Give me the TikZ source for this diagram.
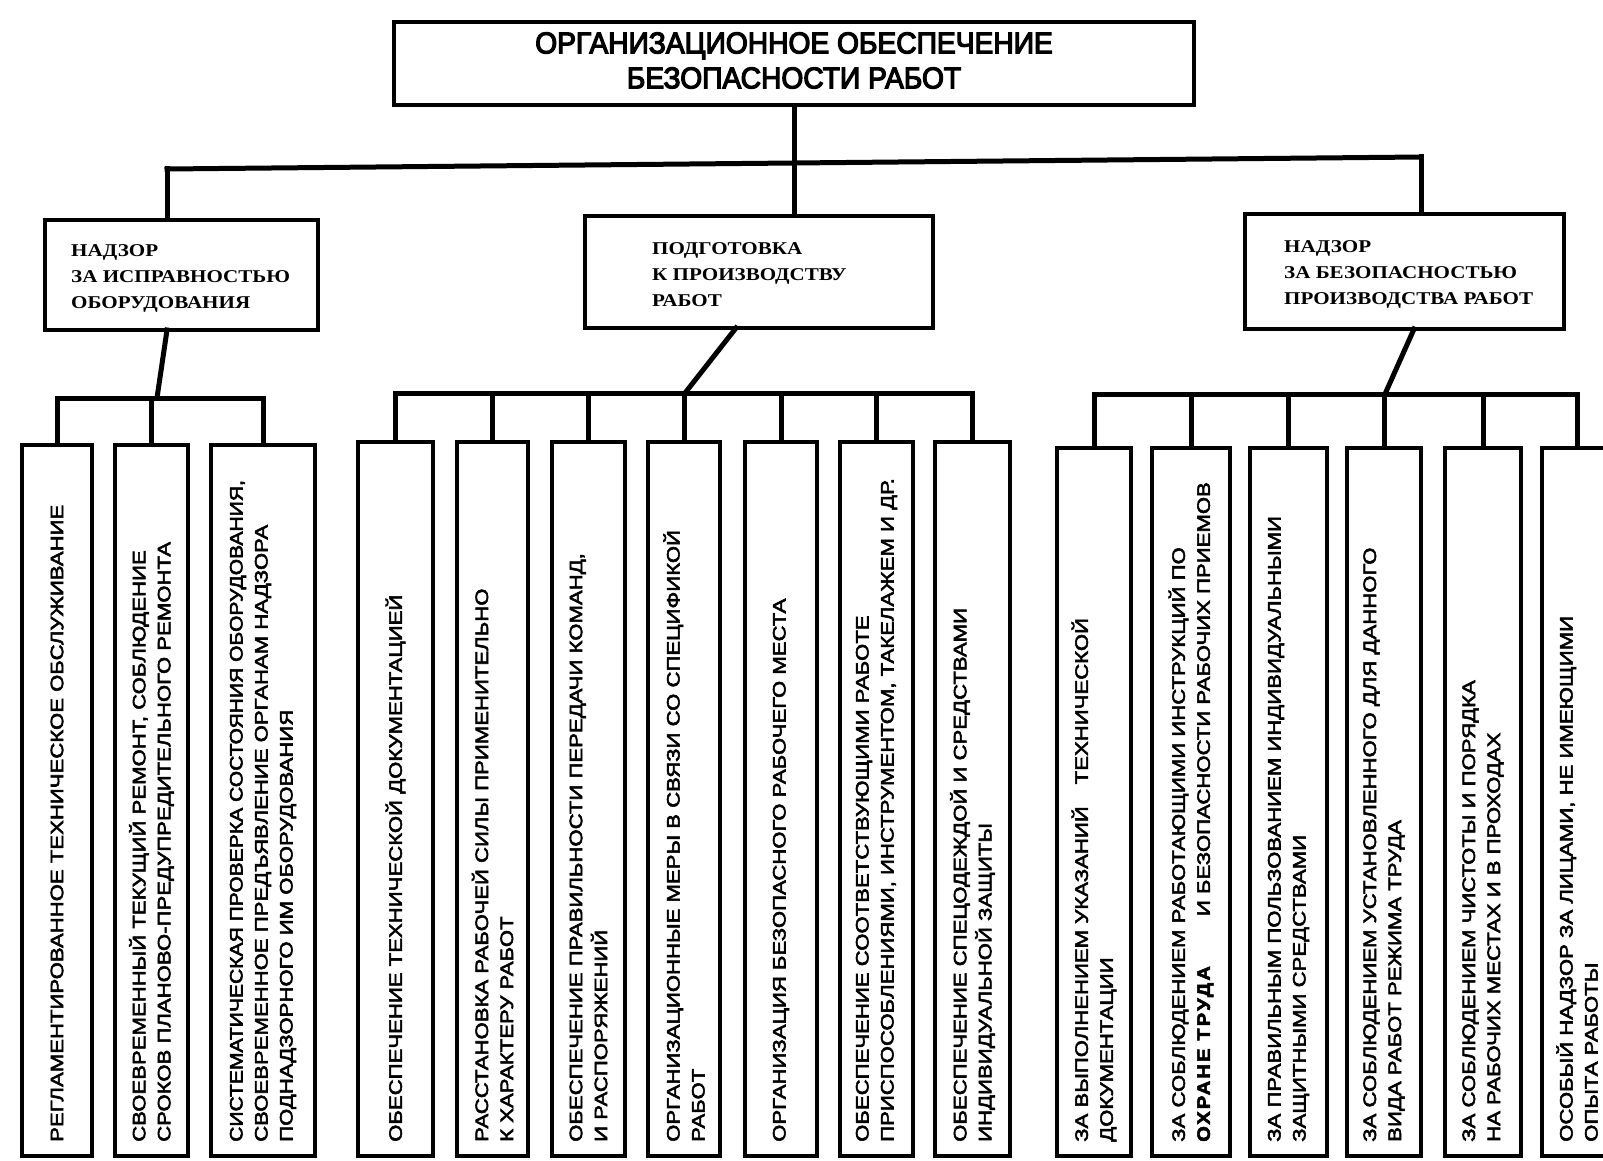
\documentclass[tikz,border=0pt]{standalone}
\usepackage{fontspec}
\setmainfont{Liberation Sans}
\newfontfamily\topfont[FakeStretch=0.94,FakeBold=4]{Liberation Sans}
\newfontfamily\midfont[FakeStretch=1.17]{Liberation Serif}
\newfontfamily\childfont[FakeStretch=1.23,FakeBold=3]{Liberation Sans}
\newfontfamily\childfontn[FakeStretch=1.17,FakeBold=3]{Liberation Sans}
\newfontfamily\childbold[FakeStretch=1.12,LetterSpace=12,FakeBold=3]{Liberation Sans}
\tikzset{
  bx/.style={draw, line width=4pt, inner sep=0pt},
  ln/.style={line width=5pt, line cap=rect, line join=miter},
  kidtext/.style={rotate=90, anchor=west, align=left, inner sep=0pt,
    font=\childfont\fontsize{18}{25}\selectfont},
  midtext/.style={anchor=west, align=left, inner sep=0pt, yshift=-3pt,
    font=\midfont\bfseries\fontsize{18}{26}\selectfont},
  toptext/.style={align=center, inner sep=0pt,
    font=\topfont\fontsize{30}{35}\selectfont}
}
\newcommand\kid[5]{%
  \pgfmathsetmacro\kx{(#2+#3)/2}%
  \pgfmathsetmacro\kw{#3-#2}%
  \pgfmathsetmacro\ky{(#4+1156)/2}%
  \pgfmathsetmacro\kh{1156-#4}%
  \node[bx, minimum width=\kw pt, minimum height=\kh pt] (#1) at (\kx,\ky) {};
  \node[kidtext] (#1t) at ([yshift=16pt]#1.south) {#5};
}
\begin{document}
\begin{tikzpicture}[x=1pt,y=-1pt]
\path[use as bounding box, fill=white] (0,0) rectangle (1603,1161);
\clip (0,0) rectangle (1603,1161);

% top box
\node[bx, minimum width=800pt, minimum height=83pt] (top) at (794,63.5) {};
\node[toptext] (topt) at ([yshift=3pt]top.center) {ОРГАНИЗАЦИОННОЕ ОБЕСПЕЧЕНИЕ\\БЕЗОПАСНОСТИ РАБОТ};

% middle level boxes
\node[bx, minimum width=273pt, minimum height=110pt] (A) at (181.5,275) {};
\node[midtext] (At) at ([xshift=28pt]A.west) {НАДЗОР\\ЗА ИСПРАВНОСТЬЮ\\ОБОРУДОВАНИЯ};
\node[bx, minimum width=348pt, minimum height=112pt] (B) at (759,272) {};
\node[midtext] (Bt) at ([xshift=69pt]B.west) {ПОДГОТОВКА\\К ПРОИЗВОДСТВУ\\РАБОТ};
\node[bx, minimum width=319pt, minimum height=115pt] (C) at (1404.5,271.5) {};
\node[midtext] (Ct) at ([xshift=41pt]C.west) {НАДЗОР\\ЗА БЕЗОПАСНОСТЬЮ\\ПРОИЗВОДСТВА РАБОТ};

% children, left group
\kid{l1}{22}{92}{445}{РЕГЛАМЕНТИРОВАННОЕ ТЕХНИЧЕСКОЕ ОБСЛУЖИВАНИЕ}
\kid{l2}{115}{188}{445}{СВОЕВРЕМЕННЫЙ ТЕКУЩИЙ РЕМОНТ, СОБЛЮДЕНИЕ\\СРОКОВ ПЛАНОВО-ПРЕДУПРЕДИТЕЛЬНОГО РЕМОНТА}
\kid{l3}{211}{315}{445}{\childfontn СИСТЕМАТИЧЕСКАЯ ПРОВЕРКА СОСТОЯНИЯ ОБОРУДОВАНИЯ,\\СВОЕВРЕМЕННОЕ ПРЕДЪЯВЛЕНИЕ ОРГАНАМ НАДЗОРА\\ПОДНАДЗОРНОГО ИМ ОБОРУДОВАНИЯ}
% middle group
\kid{m1}{358}{433}{442}{ОБЕСПЕЧЕНИЕ ТЕХНИЧЕСКОЙ ДОКУМЕНТАЦИЕЙ}
\kid{m2}{457}{528}{442}{РАССТАНОВКА РАБОЧЕЙ СИЛЫ ПРИМЕНИТЕЛЬНО\\К ХАРАКТЕРУ РАБОТ}
\kid{m3}{552}{625}{442}{ОБЕСПЕЧЕНИЕ ПРАВИЛЬНОСТИ ПЕРЕДАЧИ КОМАНД,\\И РАСПОРЯЖЕНИЙ}
\kid{m4}{648}{720}{442}{ОРГАНИЗАЦИОННЫЕ МЕРЫ В СВЯЗИ СО СПЕЦИФИКОЙ\\РАБОТ}
\kid{m5}{745}{817}{442}{ОРГАНИЗАЦИЯ БЕЗОПАСНОГО РАБОЧЕГО МЕСТА}
\kid{m6}{840}{913}{442}{ОБЕСПЕЧЕНИЕ СООТВЕТСТВУЮЩИМИ РАБОТЕ\\ПРИСПОСОБЛЕНИЯМИ, ИНСТРУМЕНТОМ, ТАКЕЛАЖЕМ И ДР.}
\kid{m7}{935}{1010}{442}{ОБЕСПЕЧЕНИЕ СПЕЦОДЕЖДОЙ И СРЕДСТВАМИ\\ИНДИВИДУАЛЬНОЙ ЗАЩИТЫ}
% right group
\kid{r1}{1057}{1131}{448}{ЗА ВЫПОЛНЕНИЕМ УКАЗАНИЙ\hspace{22pt}ТЕХНИЧЕСКОЙ\\ДОКУМЕНТАЦИИ}
\kid{r2}{1152}{1230}{448}{ЗА СОБЛЮДЕНИЕМ РАБОТАЮЩИМИ ИНСТРУКЦИЙ ПО\\{\childbold\bfseries ОХРАНЕ ТРУДА}\hspace{50pt}И БЕЗОПАСНОСТИ РАБОЧИХ ПРИЕМОВ}
\kid{r3}{1250}{1327}{448}{ЗА ПРАВИЛЬНЫМ ПОЛЬЗОВАНИЕМ ИНДИВИДУАЛЬНЫМИ\\ЗАЩИТНЫМИ СРЕДСТВАМИ}
\kid{r4}{1347}{1421}{448}{ЗА СОБЛЮДЕНИЕМ УСТАНОВЛЕННОГО ДЛЯ ДАННОГО\\ВИДА РАБОТ РЕЖИМА ТРУДА}
\kid{r5}{1445}{1521}{448}{ЗА СОБЛЮДЕНИЕМ ЧИСТОТЫ И ПОРЯДКА\\НА РАБОЧИХ МЕСТАХ И В ПРОХОДАХ}
\kid{r6}{1542}{1612}{448}{ОСОБЫЙ НАДЗОР ЗА ЛИЦАМИ, НЕ ИМЕЮЩИМИ\\ОПЫТА РАБОТЫ}

% connectors, top level
\coordinate (bl) at (167,169);
\coordinate (br) at (1421,157);
\coordinate (bm) at (794,163);
\draw[ln] (top.south) -- (bm);
\draw[ln] (bl) -- (br);
\draw[ln] (bl) -- (bl |- A.north);
\draw[ln] (bm) -- (bm |- B.north);
\draw[ln] (br) -- (br |- C.north);

% left group
\coordinate (as) at (167,330);
\coordinate (ab) at (157,398);
\draw[ln] (as) -- (ab);
\draw[ln] (l1.north) -- (l1.north |- ab) -- (l3.north |- ab) -- (l3.north);
\draw[ln] (l2.north |- ab) -- (l2.north);

% middle group
\coordinate (bs) at (736,328);
\coordinate (bb) at (685,393);
\draw[ln] (bs) -- (bb);
\draw[ln] (m1.north) -- (m1.north |- bb) -- (m7.north |- bb) -- (m7.north);
\foreach \k in {m2,m3,m4,m5,m6} \draw[ln] (\k.north |- bb) -- (\k.north);

% right group
\coordinate (cs) at (1414,329);
\coordinate (cb) at (1385,394);
\draw[ln] (cs) -- (cb);
\draw[ln] (r1.north) -- (r1.north |- cb) -- (r6.north |- cb) -- (r6.north);
\foreach \k in {r2,r3,r4,r5} \draw[ln] (\k.north |- cb) -- (\k.north);
\end{tikzpicture}
\end{document}
